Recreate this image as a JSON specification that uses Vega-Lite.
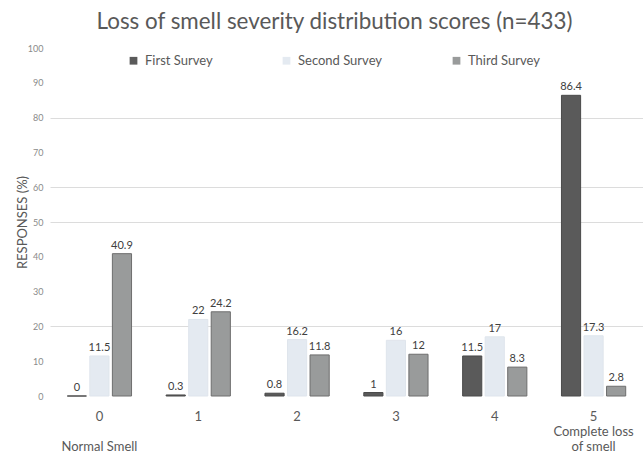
{
  "$schema": "https://vega.github.io/schema/vega-lite/v6.json",
  "width": 593,
  "height": 348,
  "autosize": "none",
  "padding": {"left": 50, "top": 48, "right": 0, "bottom": 63},
  "background": "white",
  "config": {"view": {"stroke": null}, "font": "Lato"},
  "title": {
    "text": "Loss of smell severity distribution scores (n=433)",
    "fontSize": 22.4,
    "font": "Lato",
    "fontWeight": "normal",
    "color": "#595959",
    "anchor": "middle",
    "dx": -12,
    "offset": 11
  },
  "data": {
    "values": [
      {"score": "0", "survey": "First Survey", "value": 0},
      {"score": "0", "survey": "Second Survey", "value": 11.5},
      {"score": "0", "survey": "Third Survey", "value": 40.9},
      {"score": "1", "survey": "First Survey", "value": 0.3},
      {"score": "1", "survey": "Second Survey", "value": 22},
      {"score": "1", "survey": "Third Survey", "value": 24.2},
      {"score": "2", "survey": "First Survey", "value": 0.8},
      {"score": "2", "survey": "Second Survey", "value": 16.2},
      {"score": "2", "survey": "Third Survey", "value": 11.8},
      {"score": "3", "survey": "First Survey", "value": 1},
      {"score": "3", "survey": "Second Survey", "value": 16},
      {"score": "3", "survey": "Third Survey", "value": 12},
      {"score": "4", "survey": "First Survey", "value": 11.5},
      {"score": "4", "survey": "Second Survey", "value": 17},
      {"score": "4", "survey": "Third Survey", "value": 8.3},
      {"score": "5", "survey": "First Survey", "value": 86.4},
      {"score": "5", "survey": "Second Survey", "value": 17.3},
      {"score": "5", "survey": "Third Survey", "value": 2.8}
    ]
  },
  "encoding": {
    "x": {
      "field": "score",
      "type": "nominal",
      "scale": {"paddingInner": 0.35, "paddingOuter": 0.175},
      "axis": {
        "title": null,
        "labelAngle": 0,
        "domain": false,
        "ticks": false,
        "labelFontSize": 13,
        "labelColor": "#595959",
        "labelPadding": 14,
        "labelLineHeight": 15,
        "labelExpr": "datum.value == '0' ? ['0', '\u200b', 'Normal Smell'] : datum.value == '5' ? ['5', 'Complete loss', 'of smell'] : datum.value"
      }
    },
    "xOffset": {
      "field": "survey",
      "type": "nominal",
      "sort": ["First Survey", "Second Survey", "Third Survey"],
      "scale": {"paddingInner": 0.15}
    }
  },
  "resolve": {"axis": {"y": "independent"}},
  "layer": [
    {
      "mark": {"type": "bar", "strokeWidth": 1},
      "encoding": {
        "y": {
          "field": "value",
          "type": "quantitative",
          "scale": {"domain": [0, 100]},
          "axis": {
            "orient": "left",
            "title": "RESPONSES (%)",
            "values": [0, 10, 20, 30, 40, 50, 60, 70, 80, 90, 100],
            "domain": false,
            "ticks": false,
            "grid": false,
            "labelFontSize": 9,
            "labelColor": "#8a8a8a",
            "labelPadding": 7,
            "titleFontSize": 13,
            "titleColor": "#595959",
            "titleFontWeight": "normal",
            "titleX": -28,
            "titleY": 174,
            "titleAngle": -90,
            "titleAlign": "center",
            "titleBaseline": "middle"
          }
        },
        "fill": {
          "field": "survey",
          "type": "nominal",
          "sort": ["First Survey", "Second Survey", "Third Survey"],
          "scale": {"range": ["#5a5a5a", "#e4eaf1", "#999b9b"]},
          "legend": {
            "orient": "none",
            "legendX": 77,
            "legendY": 6,
            "direction": "horizontal",
            "title": null,
            "symbolType": "square",
            "symbolSize": 60,
            "symbolStrokeWidth": 0,
            "labelFontSize": 13,
            "labelColor": "#595959",
            "columnPadding": 67,
            "labelOffset": 5,
            "padding": 0
          }
        },
        "stroke": {
          "field": "survey",
          "type": "nominal",
          "sort": ["First Survey", "Second Survey", "Third Survey"],
          "scale": {"range": ["#4a4a4a", "#dfe5ec", "#6e6e6e"]},
          "legend": null
        }
      }
    },
    {
      "mark": {"type": "text", "baseline": "bottom", "dy": -3, "fontSize": 11, "color": "#404040"},
      "encoding": {
        "y": {
          "field": "value",
          "type": "quantitative",
          "scale": {"domain": [0, 100]},
          "axis": {
            "orient": "left",
            "title": null,
            "values": [20, 50, 60, 80],
            "labels": false,
            "domain": false,
            "ticks": false,
            "grid": true,
            "gridColor": "#dcdcdc"
          }
        },
        "text": {"field": "value", "type": "quantitative"}
      }
    }
  ]
}
